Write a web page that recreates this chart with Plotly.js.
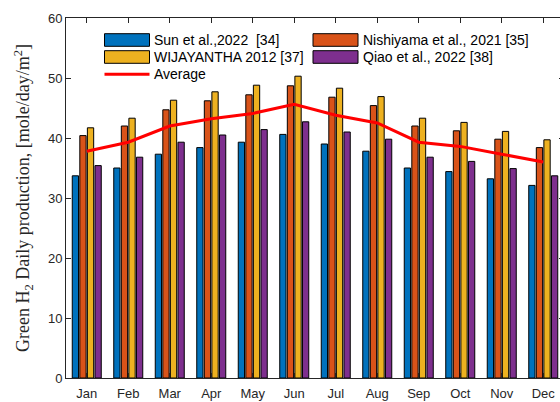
<!DOCTYPE html>
<html>
<head>
<meta charset="utf-8">
<script src="https://cdn.plot.ly/plotly-3.0.1.min.js"></script>
<style>html,body{margin:0;padding:0;overflow:hidden;background:#fff}#chart{width:564px;height:402px}</style>
</head>
<body>
<div id="chart"></div>
<script>
const months = ['Jan','Feb','Mar','Apr','May','Jun','Jul','Aug','Sep','Oct','Nov','Dec'];
const sun2022 = [33.7, 35.0, 37.3, 38.4, 39.3, 40.6, 39.0, 37.8, 35.0, 34.4, 33.2, 32.1];
const nishiyama2021 = [40.4, 42.0, 44.7, 46.2, 47.2, 48.7, 46.8, 45.4, 42.0, 41.2, 39.8, 38.4];
const wijayantha2012 = [41.7, 43.3, 46.3, 47.7, 48.8, 50.3, 48.3, 46.9, 43.3, 42.6, 41.1, 39.7];
const qiao2022 = [35.4, 36.8, 39.3, 40.5, 41.4, 42.7, 41.0, 39.8, 36.8, 36.1, 34.9, 33.7];
const average = [37.8, 39.3, 42.0, 43.2, 44.1, 45.6, 43.8, 42.5, 39.3, 38.6, 37.3, 36.0];

const names = ['Sun et al.,2022 \u00a0[34]', 'Nishiyama et al., 2021 [35]', 'WIJAYANTHA 2012 [37]', 'Qiao et al., 2022 [38]'];
const avgName = 'Average';
const colors = ['#0072BD', '#D95319', '#EDB120', '#7E2F8E'];
const series = [sun2022, nishiyama2021, wijayantha2012, qiao2022];

const traces = series.map((s, i) => ({
  type: 'bar', x: months, y: s, name: names[i],
  marker: {color: colors[i], line: {color: '#000000', width: 1}}
}));
traces.push({
  type: 'scatter', mode: 'lines', x: months, y: average, name: avgName,
  line: {color: '#FF0000', width: 3}
});

// plot area in pixels (for placing the hand-drawn legend)
const L = 66, R = 564, T = 18, B = 378;
const px = v => (v - L) / (R - L);
const py = v => (B - v) / (B - T);

const shapes = [];
const annotations = [];
const legendSlots = [
  {sx: 104.5, ty: 40},
  {sx: 313, ty: 40},
  {sx: 104.5, ty: 57},
  {sx: 313, ty: 57}
];
legendSlots.forEach((s, i) => {
  shapes.push({type: 'rect', xref: 'paper', yref: 'paper',
    x0: px(s.sx), x1: px(s.sx + 45), y0: py(s.ty - 6.3), y1: py(s.ty + 6.3),
    fillcolor: colors[i], line: {color: '#000000', width: 1}});
  annotations.push({xref: 'paper', yref: 'paper', x: px(s.sx + 47.5), y: py(s.ty),
    xanchor: 'left', yanchor: 'middle', showarrow: false, text: names[i],
    font: {family: 'Liberation Sans, Arial, sans-serif', size: 14, color: '#000000'}});
});
shapes.push({type: 'line', xref: 'paper', yref: 'paper',
  x0: px(104.5), x1: px(149.5), y0: py(74.3), y1: py(74.3),
  line: {color: '#FF0000', width: 3}});
annotations.push({xref: 'paper', yref: 'paper', x: px(152), y: py(74.3),
  xanchor: 'left', yanchor: 'middle', showarrow: false, text: avgName,
  font: {family: 'Liberation Sans, Arial, sans-serif', size: 14, color: '#000000'}});

const layout = {
  width: 564, height: 402,
  margin: {l: 66, r: 0, t: 18, b: 24},
  paper_bgcolor: '#ffffff', plot_bgcolor: '#ffffff',
  barmode: 'group', bargap: 0.27, bargroupgap: 0.17,
  font: {family: 'Liberation Sans, Arial, sans-serif', size: 13, color: '#262626'},
  showlegend: false,
  shapes: shapes,
  annotations: annotations,
  xaxis: {
    type: 'category', range: [-0.5, 11.5],
    showline: true, linecolor: '#262626', linewidth: 1, mirror: 'allticks',
    ticks: 'inside', ticklen: 5, tickcolor: '#262626',
    ticklabelstandoff: 3,
    showgrid: false, zeroline: false, automargin: false
  },
  yaxis: {
    range: [0, 60], dtick: 10,
    showline: true, linecolor: '#262626', linewidth: 1, mirror: 'allticks',
    ticks: 'inside', ticklen: 5, tickcolor: '#262626',
    showgrid: false, zeroline: false, automargin: false,
    title: {
      text: 'Green H<sub>2</sub> Daily production, [mole/day/m<sup>2</sup>]',
      font: {family: 'Liberation Serif, Times New Roman, serif', size: 18, color: '#262626'},
      standoff: 13
    }
  }
};

Plotly.newPlot('chart', traces, layout, {displayModeBar: false, staticPlot: true});
</script>
</body>
</html>
